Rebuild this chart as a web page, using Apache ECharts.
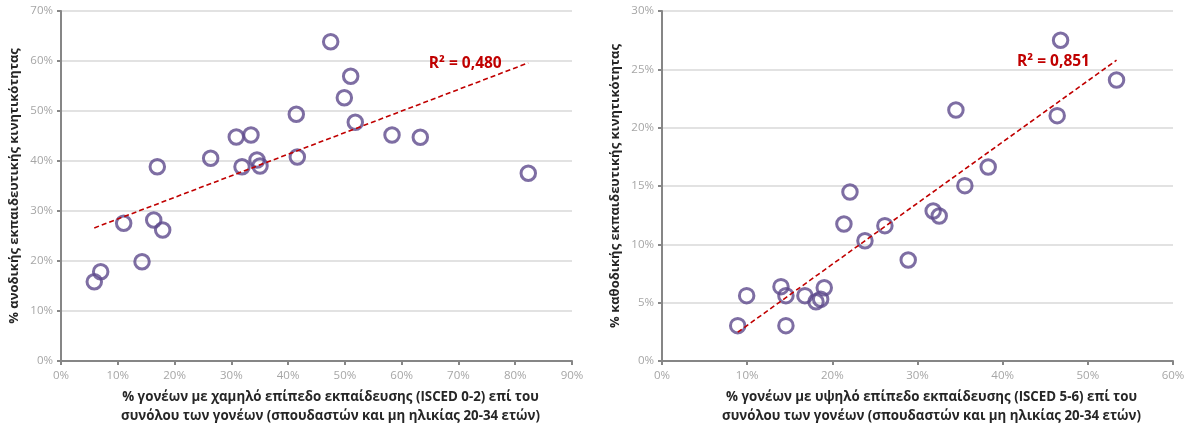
<!DOCTYPE html>
<html><head><meta charset="utf-8">
<script src="https://cdn.jsdelivr.net/npm/echarts@6/dist/echarts.min.js"></script>
<style>html,body{margin:0;padding:0;background:#fff}#c{width:1184px;height:427px}</style>
</head><body><div id="c"></div>
<script>
// Left chart: low-education parents (x) vs upward mobility (y), in %
const lowEduX = [5.86, 6.99, 11.04, 14.27, 16.33, 17.91, 16.96, 26.36, 30.87, 33.46, 31.88, 34.52, 35.05, 41.44, 41.62, 47.5, 49.9, 51.02, 51.83, 58.3, 63.28, 82.3];
const upwardY = [15.86, 17.86, 27.54, 19.86, 28.2, 26.2, 38.86, 40.54, 44.8, 45.2, 38.86, 40.2, 39.0, 49.34, 40.8, 63.86, 52.66, 56.94, 47.74, 45.2, 44.74, 37.54];
// Right chart: high-education parents (x) vs downward mobility (y), in %
const highEduX = [8.89, 9.94, 13.97, 14.55, 14.55, 16.78, 18.08, 18.63, 19.05, 21.36, 22.07, 23.83, 26.17, 28.91, 31.84, 32.55, 34.51, 35.56, 38.3, 46.4, 46.8, 53.37];
const downwardY = [3.03, 5.6, 6.37, 5.6, 3.03, 5.6, 5.08, 5.29, 6.28, 11.74, 14.49, 10.31, 11.6, 8.66, 12.86, 12.43, 21.51, 15.03, 16.63, 21.03, 27.49, 24.09];
const r2Labels = ['R² = 0,480', 'R² = 0,851'];
const xTitles = ['% γονέων με χαμηλό επίπεδο εκπαίδευσης (ISCED 0-2) επί του\nσυνόλου των γονέων (σπουδαστών και μη ηλικίας 20-34 ετών)',
                 '% γονέων με υψηλό επίπεδο εκπαίδευσης (ISCED 5-6) επί του\nσυνόλου των γονέων (σπουδαστών και μη ηλικίας 20-34 ετών)'];
const yTitles = ['% ανοδικής εκπαιδευτικής κινητικότητας', '% καθοδικής εκπαιδευτικής κινητικότητας'];
const xMax = [90, 60];
const yMax = [70, 30];
const yInterval = [10, 5];

function pairs(xs, ys) { return xs.map((x, i) => [x, ys[i]]); }
function trend(xs, ys) {
  const n = xs.length;
  const mx = xs.reduce((a, b) => a + b, 0) / n, my = ys.reduce((a, b) => a + b, 0) / n;
  let sxy = 0, sxx = 0;
  for (let i = 0; i < n; i++) { sxy += (xs[i] - mx) * (ys[i] - my); sxx += (xs[i] - mx) ** 2; }
  const b = sxy / sxx, a = my - b * mx;
  const x0 = Math.min(...xs), x1 = Math.max(...xs);
  return [[x0, a + b * x0], [x1, a + b * x1]];
}

const font = 'Open Sans';
const axisLineGray = '#868686';
const labelGray = '#a6a6a6';

function xAxis(i) {
  return {
    gridIndex: i, type: 'value', min: 0, max: xMax[i], interval: 10,
    axisLine: { show: true, lineStyle: { color: axisLineGray, width: 2 } },
    axisTick: { show: true, length: 4, lineStyle: { color: axisLineGray, width: 2 } },
    axisLabel: { color: labelGray, fontFamily: font, fontSize: 11.5, margin: 9, formatter: v => v + '%' },
    splitLine: { show: false },
    name: xTitles[i], nameLocation: 'middle', nameGap: 27,
    nameTextStyle: { color: '#262626', fontFamily: font, fontWeight: 'bold', fontSize: 13.3, lineHeight: 19, verticalAlign: 'top', padding: [0, 0, 0, 28] }
  };
}
function yAxis(i) {
  return {
    gridIndex: i, type: 'value', min: 0, max: yMax[i], interval: yInterval[i],
    axisLine: { show: true, lineStyle: { color: axisLineGray, width: 2 } },
    axisTick: { show: true, length: 4, lineStyle: { color: axisLineGray, width: 2 } },
    axisLabel: { color: labelGray, fontFamily: font, fontSize: 11.5, margin: 8, formatter: v => v + '%' },
    splitLine: { show: true, lineStyle: { color: '#d9d9d9', width: 1.5 } },
    name: yTitles[i], nameLocation: 'middle', nameGap: 40, nameRotate: 90,
    nameTextStyle: { color: '#262626', fontFamily: font, fontWeight: 'bold', fontSize: 13 }
  };
}
function scatter(i, xs, ys) {
  return {
    type: 'scatter', xAxisIndex: i, yAxisIndex: i, data: pairs(xs, ys),
    symbol: 'circle', symbolSize: 14.5,
    itemStyle: { color: 'rgba(0,0,0,0)', borderColor: '#5e4a8c', borderWidth: 3 },
    z: 3
  };
}
function trendSeries(i, xs, ys, labelOffset) {
  const t = trend(xs, ys);
  return {
    type: 'line', xAxisIndex: i, yAxisIndex: i, symbol: 'circle', symbolSize: 0, showSymbol: true, silent: true,
    data: [t[0], { value: t[1], label: { show: true, formatter: r2Labels[i], position: 'top', offset: labelOffset,
      color: '#c00000', fontFamily: font, fontWeight: 'bold', fontSize: 15.5 } }],
    itemStyle: { color: '#c00000' },
    lineStyle: { color: '#c00000', width: 1.6, type: [5, 3] },
    z: 4
  };
}

const chart = echarts.init(document.getElementById('c'), null, { renderer: 'canvas' });
chart.setOption({
  animation: false,
  grid: [
    { left: 61, right: 612, top: 11, bottom: 66, containLabel: false, outerBoundsMode: 'none' },
    { left: 662, right: 11, top: 11, bottom: 66, containLabel: false, outerBoundsMode: 'none' }
  ],
  xAxis: [xAxis(0), xAxis(1)],
  yAxis: [yAxis(0), yAxis(1)],
  series: [
    trendSeries(0, lowEduX, upwardY, [-63, 14]),
    trendSeries(1, highEduX, downwardY, [-63, 14]),
    scatter(0, lowEduX, upwardY),
    scatter(1, highEduX, downwardY)
  ]
});
</script></body></html>
